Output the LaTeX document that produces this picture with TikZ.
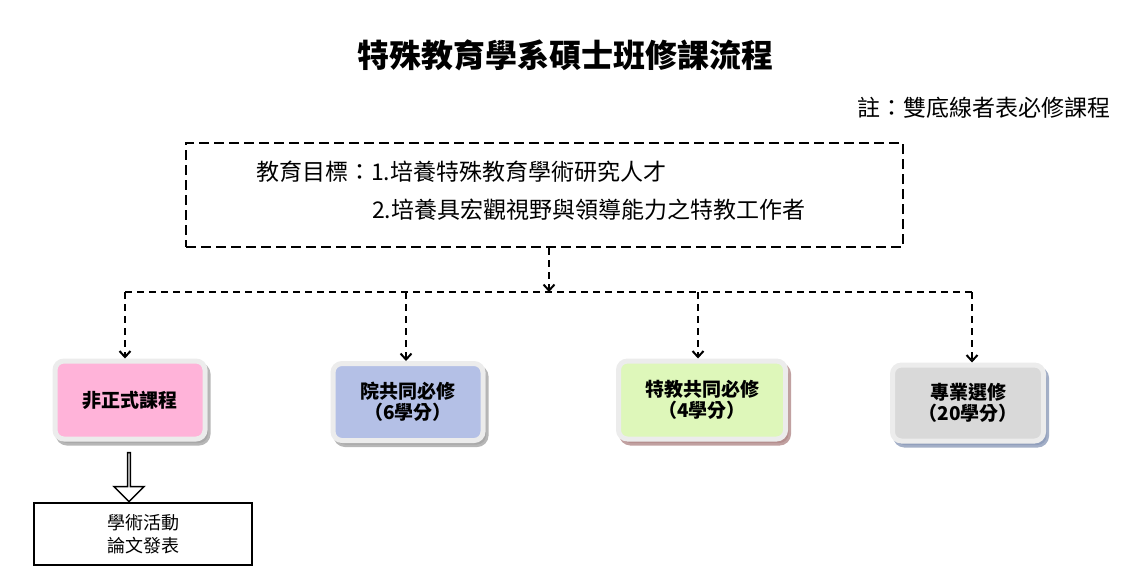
\documentclass[tikz,border=0pt]{standalone}
\usepackage{fontspec}
\setmainfont{Noto Sans CJK TC}
\usetikzlibrary{arrows.meta, positioning, shapes.arrows, shadows, calc}

\definecolor{ringgray}{RGB}{236,236,236}
\definecolor{pinkfill}{RGB}{255,179,217}
\definecolor{bluefill}{RGB}{180,192,230}
\definecolor{greenfill}{RGB}{222,247,186}
\definecolor{grayfill}{RGB}{217,217,217}
\definecolor{shgray}{RGB}{165,165,165}
\definecolor{shred}{RGB}{178,138,138}
\definecolor{shblue}{RGB}{140,155,185}

\begin{document}
\begin{tikzpicture}[
		x=1pt, y=-1pt,
		every node/.style={inner sep=0pt},
		course/.style={rectangle, rounded corners=9pt, draw=ringgray, line width=5pt,
			minimum height=78pt, align=center,
			font=\fontsize{19}{21}\selectfont\bfseries},
		shade/.style={drop shadow={shadow xshift=3pt, shadow yshift=-4pt, fill=#1, draw=#1, line width=5pt, opacity=.8}},
		goaltext/.style={anchor=west, font=\fontsize{23}{26}\selectfont},
		link/.style={dashed, dash pattern=on 7pt off 5pt, line width=2pt},
		drop/.style={link, -{Straight Barb[length=6pt, width=11pt]}},
		]
	
		\useasboundingbox (0,0) rectangle (1131,583);
	
		% Denote title and note
		\node[font=\fontsize{32}{36}\selectfont\bfseries] (title) at (565,55) {特殊教育學系碩士班修課流程};
		\node[anchor=east, font=\fontsize{23}{26}\selectfont] (note) at (1111,108) {註：雙底線者表必修課程};
		
		% Denote goal box
		\node[draw, line width=2pt, dash pattern=on 10pt off 5pt, minimum width=717pt, minimum height=104pt] (goal) at (544.5,195) {};
		\node[goaltext] (goalone) at (256,172) {教育目標：1.培養特殊教育學術研究人才};
		\node[goaltext] (goaltwo) at (372,210) {2.培養具宏觀視野與領導能力之特教工作者};
		
		% Denote course boxes
		\node[course, shade=shgray, fill=pinkfill, minimum width=150pt] (informal) at (130,400) {非正式課程};
		\node[course, shade=shgray, fill=bluefill, minimum width=150pt, minimum height=77pt] (college) at (408,402) {院共同必修\\（6學分）};
		\node[course, shade=shred, fill=greenfill, minimum width=167pt] (special) at (702,400) {特教共同必修\\（4學分）};
		\node[course, shade=shblue, fill=grayfill, minimum width=151pt, minimum height=76pt] (elective) at (968,403) {專業選修\\（20學分）};
		
		% Denote activity box
		\node[draw, line width=2pt, minimum width=218pt, minimum height=62pt, align=center, font=\fontsize{18}{23}\selectfont] (activity) at (143,534) {學術活動\\論文發表};
		\node[single arrow, draw, line width=1.5pt, fill=white, shape border rotate=270, minimum width=30pt, single arrow head extend=8pt, minimum height=49pt] (blockarrow) at (129,476.5) {};
		
		% Denote connectors
		\coordinate (hub) at (549,292);
		\coordinate (busone) at (125,292);
		\coordinate (bustwo) at (406,292);
		\coordinate (busthree) at (698,292);
		\coordinate (busfour) at (972,292);
		\draw[drop] (goal.south -| hub) -- (hub);
		\draw[link] (busone) -- (busfour);
		\draw[drop] (busone) -- (busone |- informal.north);
		\draw[drop] (bustwo) -- (bustwo |- college.north);
		\draw[drop] (busthree) -- (busthree |- special.north);
		\draw[drop] (busfour) -- (busfour |- elective.north);
		
	\end{tikzpicture}
\end{document}
